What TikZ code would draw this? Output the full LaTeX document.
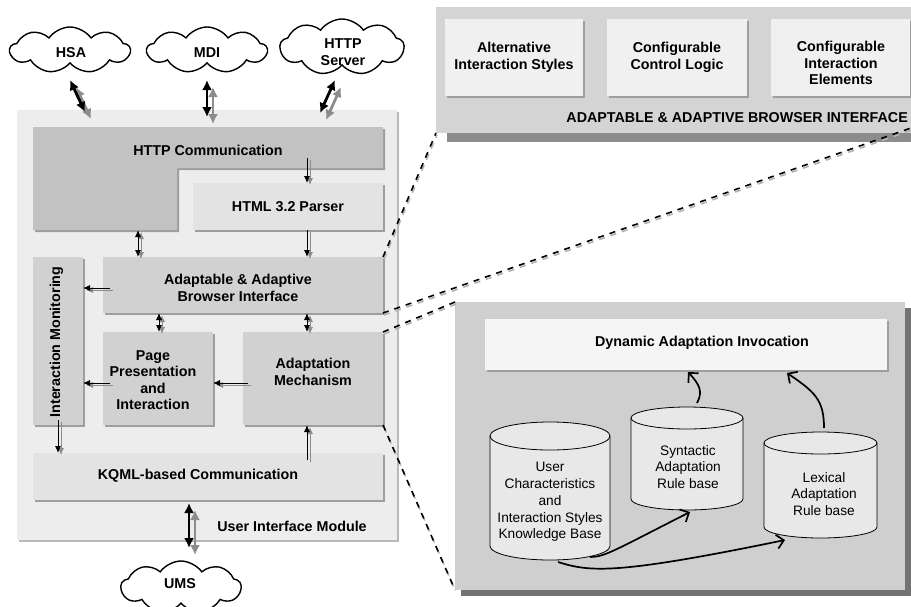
\documentclass[tikz,border=0pt]{standalone}
\usepackage{fontspec}
\setmainfont{Liberation Sans}
\usetikzlibrary{shapes.symbols,arrows.meta,shadows,calc}

\definecolor{modbg}{gray}{0.93}
\definecolor{httpc}{gray}{0.76}
\definecolor{midc}{gray}{0.82}
\definecolor{lightc}{gray}{0.89}
\definecolor{shc}{gray}{0.62}
\definecolor{tpc}{gray}{0.83}
\definecolor{tpsh}{gray}{0.55}
\definecolor{inc}{gray}{0.94}
\definecolor{bpc}{gray}{0.81}
\definecolor{bpsh}{gray}{0.45}
\definecolor{dync}{gray}{0.96}
\definecolor{cylc}{gray}{0.91}
\definecolor{arrsh}{gray}{0.55}

\begin{document}
\begin{tikzpicture}[x=1pt,y=-1pt,
  lbl/.style={font=\bfseries\fontsize{14.3}{16.5}\selectfont, align=center, inner sep=0pt},
  rlbl/.style={font=\fontsize{13.7}{16.7}\selectfont, align=center, inner sep=0pt},
  blk/.style={rectangle, inner sep=0pt, outer sep=0pt, minimum width=#1},
  hgt/.style={minimum height=#1},
  sh/.style={drop shadow={shadow xshift=2pt, shadow yshift=-2pt, fill=shc, opacity=1}},
  cloudn/.style={cloud, cloud puffs=9, cloud puff arc=110, cloud ignores aspect, draw, line width=1.4pt, fill=white, minimum width=120, minimum height=46, inner sep=0pt},
  bigarr/.style={line width=2.8pt, {Latex[length=10pt,width=10pt]}-{Latex[length=10pt,width=10pt]}},
  bigsh/.style={draw=arrsh, transform canvas={shift={(6,7)}}},
  tarr/.style={line width=0.9pt, -{Latex[length=7pt,width=6pt]}},
  tarr2/.style={line width=0.9pt, {Latex[length=7pt,width=6pt]}-{Latex[length=7pt,width=6pt]}},
  tsh/.style={draw=arrsh, transform canvas={shift={(3,2)}}},
  dsh/.style={line width=1.6pt, dash pattern=on 6pt off 6pt},
  dshg/.style={dsh, draw=gray!60, transform canvas={shift={(1,2)}}},
  curv/.style={line width=1.7pt, -{Straight Barb[length=7pt,width=14pt]}},
]
\fill[white] (0,0) rectangle (911,606);
\useasboundingbox (0,0) rectangle (911,606);

% ---------------- left module ----------------
\node[blk=380, hgt=430, fill=modbg, drop shadow={shadow xshift=1.5pt, shadow yshift=-1.5pt, fill=gray!55, opacity=1}] (module) at (207,325) {};

\fill[httpc, sh] (33,127) -- (383,127) -- (383,168) -- (177,168) -- (177,230) -- (33,230) -- cycle;
\node[lbl] (http) at (208,150) {HTTP Communication};
\coordinate (a3s) at (138,230);

\node[blk=190, hgt=47, fill=lightc, sh, lbl] (parser) at (288,206.5) {HTML 3.2 Parser};

\node[blk=280, hgt=56, fill=midc, sh] (browser) at (243,285) {};
\node[lbl] (browserl) at (238,288) {Adaptable \& Adaptive\\Browser Interface};

\node[blk=50, hgt=168, fill=midc, sh] (monitor) at (58,341) {};
\node[lbl, rotate=90] (monitorl) at (56.5,342) {Interaction Monitoring};

\node[blk=110, hgt=93, fill=midc, sh] (page) at (158,378.5) {};
\node[lbl] (pagel) at (153,380) {Page\\Presentation\\and\\Interaction};

\node[blk=140, hgt=93, fill=midc, sh] (adapt) at (313,378.5) {};
\node[lbl] (adaptl) at (313,372) {Adaptation\\Mechanism};

\node[blk=350, hgt=47, fill=lightc, sh] (kqml) at (208,476.5) {};
\node[lbl] (kqmll) at (198,476) {KQML-based Communication};

\node[lbl] (uim) at (292,526) {User Interface Module};

% internal arrows
\coordinate (a1s) at (307,158);
\coordinate (a4s) at (110,288);
\coordinate (a5s) at (110,383);
\coordinate (a6s) at (248,383);
\coordinate (a7) at (159,0);
\coordinate (a9s) at (307,460);
\coordinate (a10s) at (58,420);

\foreach \st in {tsh,}{
  \draw[tarr,\st] (a1s) -- (a1s |- parser.north);
  \draw[tarr,\st] (a1s |- parser.south) -- (a1s |- browser.north);
  \draw[tarr2,\st] (a3s) -- (a3s |- browser.north);
  \draw[tarr,\st] (a4s) -- (a4s -| monitor.east);
  \draw[tarr,\st] (a5s) -- (a5s -| monitor.east);
  \draw[tarr,\st] (a6s) -- (a6s -| page.east);
  \draw[tarr2,\st] (a7 |- browser.south) -- (a7 |- page.north);
  \draw[tarr2,\st] (a1s |- browser.south) -- (a1s |- adapt.north);
  \draw[tarr,\st] (a9s) -- (a9s |- adapt.south);
  \draw[tarr,\st] (a10s) -- (a10s |- kqml.north);
}

% ---------------- clouds ----------------
\node[cloudn] (hsa) at (70,50) {};
\node[lbl] (hsal) at (71,53) {HSA};
\node[cloudn] (mdi) at (207,50) {};
\node[lbl] (mdil) at (207,53) {MDI};
\node[cloudn, minimum width=124, minimum height=56] (hsrv) at (342,47) {};
\node[lbl] (hsrvl) at (343,52) {HTTP\\Server};
\node[cloudn, minimum height=52] (ums) at (181,587) {};
\node[lbl] (umsl) at (180,584) {UMS};

\coordinate (h1) at (70,80);   \coordinate (h2) at (85,112);
\coordinate (m1) at (207,80);  \coordinate (m2) at (207,117);
\coordinate (s1) at (335,80);  \coordinate (s2) at (320,113);
\coordinate (u1) at (189,503); \coordinate (u2) at (189,548);
\foreach \st in {bigsh,}{
  \draw[bigarr,\st] (h1) -- (h2);
  \draw[bigarr,\st] (m1) -- (m2);
  \draw[bigarr,\st] (s1) -- (s2);
  \draw[bigarr,\st] (u1) -- (u2);
}

% ---------------- top-right panel ----------------
\fill[tpsh] (447,133) rectangle (915,142);
\node[blk=480, hgt=126, fill=tpc] (tpanel) at (676,70) {};
\node[blk=138, hgt=77, fill=inc, sh, lbl] (alt) at (514,57.5) {Alternative\\Interaction Styles};
\node[blk=140, hgt=77, fill=inc, sh, lbl] (ccl) at (677,57.5) {Configurable\\Control Logic};
\node[blk=139, hgt=77, fill=inc, sh] (cie) at (840.5,57.5) {};
\node[lbl] (ciel) at (841,63) {Configurable\\Interaction\\Elements};
\node[lbl, anchor=east] (abi) at (908,118) {ADAPTABLE \& ADAPTIVE BROWSER INTERFACE};
\coordinate (tpse) at (911,128);

% ---------------- bottom-right panel ----------------
\node[blk=450, hgt=288, fill=bpc, drop shadow={shadow xshift=6pt, shadow yshift=-6pt, fill=bpsh, opacity=1}] (bpanel) at (680,446) {};
\node[blk=402, hgt=51, fill=dync, sh] (dyn) at (686,344.5) {};
\node[lbl] (dynl) at (702,343) {Dynamic Adaptation Invocation};

% cylinders
\path[fill=cylc] (490,436) -- (490,546) arc[start angle=180,end angle=360,x radius=60pt,y radius=14pt] -- (610,436) arc[start angle=0,end angle=180,x radius=60pt,y radius=14pt] -- cycle;
\draw[line width=0.8pt] (550,436) ellipse [x radius=60pt, y radius=14pt];
\draw[line width=0.8pt] (490,436) -- (490,546) arc[start angle=180,end angle=360,x radius=60pt,y radius=14pt] -- (610,436);
\node[rlbl] (ucyl) at (550,502) {User\\Characteristics\\and\\Interaction Styles\\Knowledge Base};

\path[fill=cylc] (631,418) -- (631,499) arc[start angle=180,end angle=360,x radius=56pt,y radius=11pt] -- (743,418) arc[start angle=0,end angle=180,x radius=56pt,y radius=11pt] -- cycle;
\draw[line width=0.8pt] (687,418) ellipse [x radius=56pt, y radius=11pt];
\draw[line width=0.8pt] (631,418) -- (631,499) arc[start angle=180,end angle=360,x radius=56pt,y radius=11pt] -- (743,418);
\node[rlbl] (scyl) at (688,467) {Syntactic\\Adaptation\\Rule base};

\path[fill=cylc] (764,443) -- (764,527) arc[start angle=180,end angle=360,x radius=56.5pt,y radius=11pt] -- (877,443) arc[start angle=0,end angle=180,x radius=56.5pt,y radius=11pt] -- cycle;
\draw[line width=0.8pt] (820.5,443) ellipse [x radius=56.5pt, y radius=11pt];
\draw[line width=0.8pt] (764,443) -- (764,527) arc[start angle=180,end angle=360,x radius=56.5pt,y radius=11pt] -- (877,443);
\node[rlbl] (lcyl) at (824,494) {Lexical\\Adaptation\\Rule base};

\coordinate (cu1) at (590,557); \coordinate (cs1) at (690,512);
\coordinate (cu2) at (558,562); \coordinate (cl1) at (785,540);
\coordinate (cs2) at (697,403); \coordinate (cd1) at (688,372);
\coordinate (cl2) at (824,428); \coordinate (cd2) at (787,373);
\draw[curv] (cu1) .. controls (605,557) and (615,550) .. (cs1);
\draw[curv] (cu2) .. controls (590,572) and (615,575) .. (cl1);
\draw[curv] (cs2) .. controls (703,392) and (700,385) .. (cd1);
\draw[curv] (cl2) .. controls (824,400) and (815,392) .. (cd2);

% ---------------- dashed zoom lines ----------------
\foreach \st in {dshg,dsh}{
  \draw[\st] (browser.north east) -- (tpanel.south west);
  \draw[\st] (browser.south east) -- (tpse);
  \draw[\st] (adapt.north east) -- (bpanel.north west);
  \draw[\st] (adapt.south east) -- (bpanel.south west);
}
\end{tikzpicture}
\end{document}
